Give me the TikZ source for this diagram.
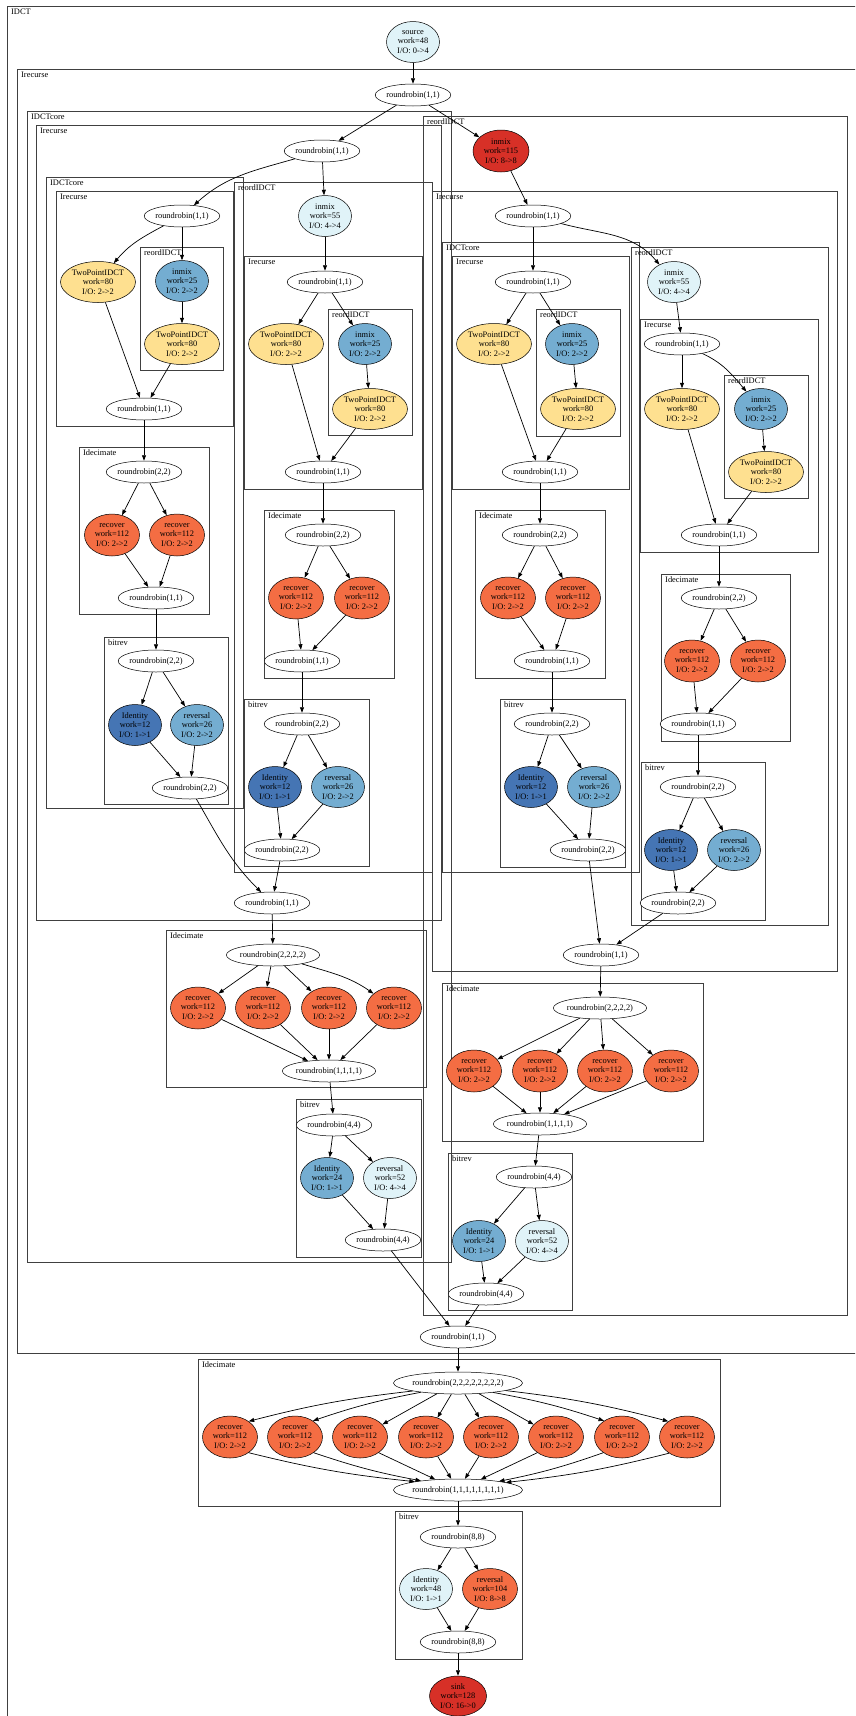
\documentclass[tikz,border=0pt]{standalone}
\usepackage{fontspec}
\setmainfont{Liberation Serif}
\usetikzlibrary{shapes.geometric,arrows.meta}
\definecolor{lb}{HTML}{E0F3F8}
\definecolor{mb}{HTML}{74ADD1}
\definecolor{db}{HTML}{4575B4}
\definecolor{yl}{HTML}{FEE090}
\definecolor{og}{HTML}{F46D43}
\definecolor{rd}{HTML}{D73027}
\newcommand\clu[5]{\draw[cl] (#1,#2) rectangle (#3,#4); \node[lbl] (L#1-#2) at ({#1+4},{#2+8.5}) {#5};}
\newcommand\tpT{TwoPointIDCT\\work=80\\I/O: 2->2}
\newcommand\imT{inmix\\work=25\\I/O: 2->2}
\newcommand\rcT{recover\\work=112\\I/O: 2->2}
\newcommand\idT{Identity\\work=12\\I/O: 1->1}
\newcommand\rvT{reversal\\work=26\\I/O: 2->2}
\begin{document}
\begin{tikzpicture}[x=1pt,y=-1pt,font=\fontsize{8.4}{9.7}\selectfont,
  rr/.style={ellipse,draw,fill=white,inner sep=0pt,minimum width=67pt,minimum height=22pt,line width=0.5pt},
  rrw/.style={rr,minimum width=80pt},
  rrx/.style={rr,minimum width=105pt},
  flt/.style={ellipse,draw,inner sep=0pt,minimum width=53pt,minimum height=41pt,align=center,line width=0.5pt},
  tp/.style={flt,fill=yl,minimum width=75pt},
  rc/.style={flt,fill=og,minimum width=55pt,minimum height=42pt},
  e/.style={-{Triangle[length=5.5pt,width=4pt]},line width=0.7pt},
  cl/.style={draw=black!75,line width=0.9pt},
  lbl/.style={anchor=base west,inner sep=0pt}]
\clip (0,0) rectangle (855,1716);
\fill[white] (0,0) rectangle (855,1716);
% clusters
\clu{7}{6}{870}{1730}{IDCT}
\clu{17}{69}{870}{1353}{Irecurse}
\clu{27}{111}{451}{1262}{IDCTcore}
\clu{36}{125}{441}{920}{Irecurse}
\clu{46}{177}{243}{808}{IDCTcore}
\clu{56}{191}{233}{426}{Irecurse}
\clu{140}{247}{223}{370}{reordIDCT}
\clu{79}{447}{209}{614}{Idecimate}
\clu{104}{637}{228}{804}{bitrev}
\clu{234}{182}{432}{872}{reordIDCT}
\clu{244}{256}{422}{489}{Irecurse}
\clu{328}{309}{412}{435}{reordIDCT}
\clu{264}{510}{394}{678}{Idecimate}
\clu{244}{699}{369}{866}{bitrev}
\clu{166}{930}{426}{1087}{Idecimate}
\clu{296}{1099}{421}{1257}{bitrev}
\clu{423}{116}{847}{1315}{reordIDCT}
\clu{432}{191}{837}{971}{Irecurse}
\clu{442}{242}{639}{872}{IDCTcore}
\clu{452}{256}{629}{489}{Irecurse}
\clu{536}{309}{620}{436}{reordIDCT}
\clu{475}{510}{605}{678}{Idecimate}
\clu{500}{699}{625}{867}{bitrev}
\clu{631}{247}{828}{925}{reordIDCT}
\clu{640}{319}{818}{552}{Irecurse}
\clu{724}{375}{808}{498}{reordIDCT}
\clu{661}{574}{790}{741}{Idecimate}
\clu{641}{762}{765}{920}{bitrev}
\clu{442}{983}{703}{1141}{Idecimate}
\clu{448}{1153}{572}{1310}{bitrev}
\clu{198}{1359}{720}{1506}{Idecimate}
\clu{395}{1511}{522}{1659}{bitrev}
% nodes top
\node[flt,fill=lb] (src) at (413,42) {source\\work=48\\I/O: 0->4};
\node[rr] (r0) at (413,95) {roundrobin(1,1)};
\node[rr] (a1) at (322,151) {roundrobin(1,1)};
\node[flt,fill=rd,minimum width=56pt,minimum height=42pt] (cIM) at (501,151) {inmix\\work=115\\I/O: 8->8};
% a branch
\node[rr] (aL1) at (182,216) {roundrobin(1,1)};
\node[tp] (aTP1) at (98,282) {\tpT};
\node[flt,fill=mb] (aIM1) at (182,281) {\imT};
\node[tp] (aTP2) at (182,344) {\tpT};
\node[rr] (aJ1) at (144,409) {roundrobin(1,1)};
\node[rr] (aD1) at (144,472) {roundrobin(2,2)};
\node[rc] (aRc1) at (112,535) {\rcT};
\node[rc] (aRc2) at (177,535) {\rcT};
\node[rr] (aDJ) at (156,598) {roundrobin(1,1)};
\node[rr] (aB1) at (156,661) {roundrobin(2,2)};
\node[flt,fill=db] (aId) at (135,725) {\idT};
\node[flt,fill=mb] (aRv) at (197,725) {\rvT};
\node[rr] (aBJ) at (190,788) {roundrobin(2,2)};
% b branch
\node[flt,fill=lb] (bIM) at (325,216) {inmix\\work=55\\I/O: 4->4};
\node[rr] (bL1) at (325,282) {roundrobin(1,1)};
\node[tp] (bTP1) at (286,344) {\tpT};
\node[flt,fill=mb] (bIM1) at (365,344) {\imT};
\node[tp] (bTP2) at (370,409) {\tpT};
\node[rr] (bJ1) at (323,472) {roundrobin(1,1)};
\node[rr] (bD1) at (323,535) {roundrobin(2,2)};
\node[rc] (bRc1) at (296,598) {\rcT};
\node[rc] (bRc2) at (362,598) {\rcT};
\node[rr] (bDJ) at (302,661) {roundrobin(1,1)};
\node[rr] (bB1) at (302,724) {roundrobin(2,2)};
\node[flt,fill=db] (bId) at (275,787) {\idT};
\node[flt,fill=mb] (bRv) at (338,787) {\rvT};
\node[rr] (bBJ) at (282,850) {roundrobin(2,2)};
% a join
\node[rr] (aJ) at (272,903) {roundrobin(1,1)};
\node[rrw] (aD) at (273,955) {roundrobin(2,2,2,2)};
\node[rc] (aR1) at (198,1008) {\rcT};
\node[rc] (aR2) at (263,1008) {\rcT};
\node[rc] (aR3) at (329,1008) {\rcT};
\node[rc] (aR4) at (394,1008) {\rcT};
\node[rrw] (aDJ4) at (329,1071) {roundrobin(1,1,1,1)};
\node[rr] (aB) at (334,1125) {roundrobin(4,4)};
\node[flt,fill=mb] (aId4) at (327,1178) {Identity\\work=24\\I/O: 1->1};
\node[flt,fill=lb] (aRv4) at (390,1178) {reversal\\work=52\\I/O: 4->4};
\node[rr] (aBJ4) at (383,1240) {roundrobin(4,4)};
% c branch
\node[rr] (c1) at (533,216) {roundrobin(1,1)};
\node[rr] (cL1) at (533,282) {roundrobin(1,1)};
\node[tp] (cTP1) at (494,344) {\tpT};
\node[flt,fill=mb] (cIM1) at (572,344) {\imT};
\node[tp] (cTP2) at (578,409) {\tpT};
\node[rr] (cJ1) at (540,472) {roundrobin(1,1)};
\node[rr] (cD1) at (540,535) {roundrobin(2,2)};
\node[rc] (cRc1) at (508,598) {\rcT};
\node[rc] (cRc2) at (573,598) {\rcT};
\node[rr] (cDJ) at (552,661) {roundrobin(1,1)};
\node[rr] (cB1) at (552,724) {roundrobin(2,2)};
\node[flt,fill=db] (cId) at (531,787) {\idT};
\node[flt,fill=mb] (cRv) at (594,787) {\rvT};
\node[rr] (cBJ) at (588,850) {roundrobin(2,2)};
% d branch
\node[flt,fill=lb] (dIM) at (674,282) {inmix\\work=55\\I/O: 4->4};
\node[rr] (dL1) at (682,344) {roundrobin(1,1)};
\node[tp] (dTP1) at (682,409) {\tpT};
\node[flt,fill=mb] (dIM1) at (761,409) {\imT};
\node[tp] (dTP2) at (766,472) {\tpT};
\node[rr] (dJ1) at (719,535) {roundrobin(1,1)};
\node[rr] (dD1) at (719,598) {roundrobin(2,2)};
\node[rc] (dRc1) at (692,661) {\rcT};
\node[rc] (dRc2) at (758,661) {\rcT};
\node[rr] (dDJ) at (698,724) {roundrobin(1,1)};
\node[rr] (dB1) at (698,787) {roundrobin(2,2)};
\node[flt,fill=db] (dId) at (671,850) {\idT};
\node[flt,fill=mb] (dRv) at (734,850) {\rvT};
\node[rr] (dBJ) at (678,903) {roundrobin(2,2)};
% c join
\node[rr] (cJ) at (601,955) {roundrobin(1,1)};
\node[rrw] (cD) at (600,1008) {roundrobin(2,2,2,2)};
\node[rc] (cR1) at (474,1071) {\rcT};
\node[rc] (cR2) at (540,1071) {\rcT};
\node[rc] (cR3) at (605,1071) {\rcT};
\node[rc] (cR4) at (671,1071) {\rcT};
\node[rrw] (cDJ4) at (540,1124) {roundrobin(1,1,1,1)};
\node[rr] (cB) at (534,1177) {roundrobin(4,4)};
\node[flt,fill=mb] (cId4) at (479,1241) {Identity\\work=24\\I/O: 1->1};
\node[flt,fill=lb] (cRv4) at (542,1241) {reversal\\work=52\\I/O: 4->4};
\node[rr] (cBJ4) at (486,1294) {roundrobin(4,4)};
% final
\node[rr] (fJ) at (458,1337) {roundrobin(1,1)};
\node[rrx] (fD) at (458,1383) {roundrobin(2,2,2,2,2,2,2,2)};
\foreach \i/\x in {1/230,2/295,3/360,4/426,5/491,6/556,7/622,8/687}
  {\node[rc] (fR\i) at (\x,1437) {\rcT};}
\node[rrx] (fDJ) at (458,1490) {roundrobin(1,1,1,1,1,1,1,1)};
\node[rr] (fB) at (458,1537) {roundrobin(8,8)};
\node[flt,fill=lb] (fId) at (426,1589) {Identity\\work=48\\I/O: 1->1};
\node[flt,fill=og,minimum width=55pt] (fRv) at (490,1589) {reversal\\work=104\\I/O: 8->8};
\node[rr] (fBJ) at (458,1642) {roundrobin(8,8)};
\node[flt,fill=rd,minimum width=57pt,minimum height=40pt] (sink) at (458,1696) {sink\\work=128\\I/O: 16->0};
% edges
\draw[e] (src) -- (r0);
\draw[e] (r0) -- (a1);
\draw[e] (r0) -- (cIM);
\draw[e] (a1) to[out=196,in=42] (aL1);
\draw[e] (a1) -- (bIM);
\draw[e] (aL1) to[out=208,in=50] (aTP1);
\draw[e] (aL1) -- (aIM1);
\draw[e] (aIM1) -- (aTP2);
\draw[e] (aTP1) -- (aJ1);
\draw[e] (aTP2) -- (aJ1);
\draw[e] (bIM) -- (bL1);
\draw[e] (bL1) -- (bTP1);
\draw[e] (bL1) -- (bIM1);
\draw[e] (bIM1) -- (bTP2);
\draw[e] (bTP1) -- (bJ1);
\draw[e] (bTP2) -- (bJ1);
\draw[e] (cIM) -- (c1);
\draw[e] (c1) -- (cL1);
\draw[e] (c1) to[out=-15,in=130] (dIM);
\draw[e] (cL1) -- (cTP1);
\draw[e] (cL1) -- (cIM1);
\draw[e] (cIM1) -- (cTP2);
\draw[e] (cTP1) -- (cJ1);
\draw[e] (cTP2) -- (cJ1);
\draw[e] (dIM) -- (dL1);
\draw[e] (dL1) -- (dTP1);
\draw[e] (dL1) to[out=-25,in=130] (dIM1);
\draw[e] (dIM1) -- (dTP2);
\draw[e] (dTP1) -- (dJ1);
\draw[e] (dTP2) -- (dJ1);
\foreach \p in {a,b,c,d}{
  \draw[e] (\p J1) -- (\p D1);
  \draw[e] (\p D1) -- (\p Rc1);
  \draw[e] (\p D1) -- (\p Rc2);
  \draw[e] (\p Rc1) -- (\p DJ);
  \draw[e] (\p Rc2) -- (\p DJ);
  \draw[e] (\p DJ) -- (\p B1);
  \draw[e] (\p B1) -- (\p Id);
  \draw[e] (\p B1) -- (\p Rv);
  \draw[e] (\p Id) -- (\p BJ);
  \draw[e] (\p Rv) -- (\p BJ);
}
\draw[e] (aBJ) to[out=-60,in=135] (aJ);
\draw[e] (bBJ) -- (aJ);
\draw[e] (cBJ) -- (cJ);
\draw[e] (dBJ) -- (cJ);
\draw[e] (aJ) -- (aD);
\draw[e] (aD) -- (aR1);
\draw[e] (aD) -- (aR2);
\draw[e] (aD) -- (aR3);
\draw[e] (aD) to[out=-17,in=145] (aR4);
\draw[e] (cJ) -- (cD);
\draw[e] (cD) -- (cR1);
\draw[e] (cD) -- (cR2);
\draw[e] (cD) -- (cR3);
\draw[e] (cD) -- (cR4);
\foreach \p in {a,c}{
  \foreach \i in {1,2,3,4}{\draw[e] (\p R\i) -- (\p DJ4);}
  \draw[e] (\p DJ4) -- (\p B);
  \draw[e] (\p B) -- (\p Id4);
  \draw[e] (\p B) -- (\p Rv4);
  \draw[e] (\p Id4) -- (\p BJ4);
  \draw[e] (\p Rv4) -- (\p BJ4);
}
\draw[e] (aBJ4) -- (fJ);
\draw[e] (cBJ4) -- (fJ);
\draw[e] (fJ) -- (fD);
\draw[e] (fD.190) to[bend right=4] (fR1.40);
\draw[e] (fD.194) to[bend right=4] (fR2.42);
\draw[e] (fD.207) -- (fR3);
\draw[e] (fD) -- (fR4);
\draw[e] (fD) -- (fR5);
\draw[e] (fD.-27) -- (fR6);
\draw[e] (fD.-15) to[bend left=4] (fR7.138);
\draw[e] (fD.-9) to[bend left=4] (fR8.140);
\draw[e] (fR1.-40) to[bend right=4] (fDJ.169);
\draw[e] (fR2.-40) to[bend right=4] (fDJ.166);
\draw[e] (fR3.-40) -- (fDJ.155);
\draw[e] (fR4) -- (fDJ);
\draw[e] (fR5) -- (fDJ);
\draw[e] (fR6.-140) -- (fDJ.25);
\draw[e] (fR7.-140) to[bend left=4] (fDJ.12);
\draw[e] (fR8.-138) to[bend left=4] (fDJ.9);
\draw[e] (fDJ) -- (fB);
\draw[e] (fB) -- (fId);
\draw[e] (fB) -- (fRv);
\draw[e] (fId) -- (fBJ);
\draw[e] (fRv) -- (fBJ);
\draw[e] (fBJ) -- (sink);
\end{tikzpicture}
\end{document}
